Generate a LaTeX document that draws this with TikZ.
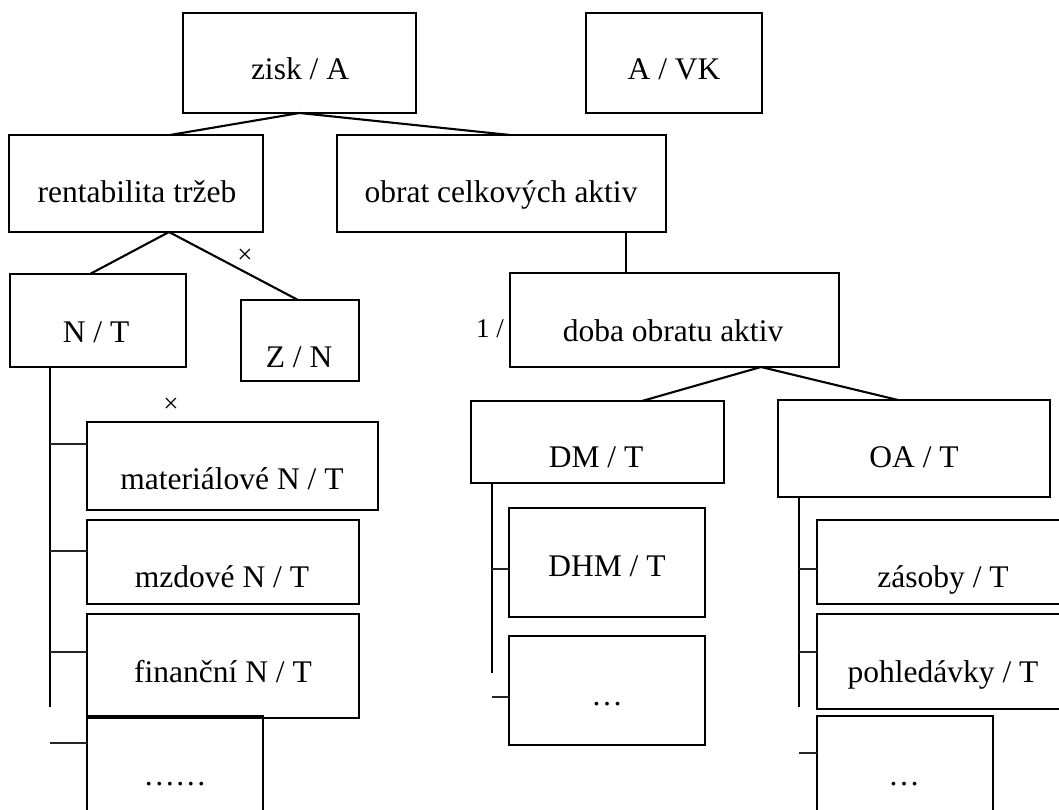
\documentclass[tikz,border=0pt]{standalone}
\usepackage{fontspec}
\setmainfont{Liberation Serif}
\newcommand\mkbox[5]{\node[box, anchor=north west, minimum width={#4-#2}, minimum height={#5-#3}] (#1) at (#2,#3) {};}
\begin{document}
\begin{tikzpicture}[x=1pt,y=-1pt,
  box/.style={draw=black, line width=2.7pt, inner sep=0pt, outer sep=0pt},
  conn/.style={draw=black, line width=2.1pt},
  tickln/.style={draw=black!85, line width=1.9pt},
  txt/.style={anchor=base, inner sep=0pt, font=\fontsize{31.5}{36}\selectfont},
  small/.style={inner sep=0pt, font=\fontsize{27}{30}\selectfont}]
\useasboundingbox (0,0) rectangle (1059,810);
\fill[white] (0,0) rectangle (1059,810);
\clip (0,0) rectangle (1059,810);
% boxes
\mkbox{zisk}{183}{13}{416}{113}
\mkbox{avk}{586}{13}{762}{113}
\mkbox{rent}{9}{135}{263}{232}
\mkbox{obrat}{337}{135}{666}{232}
\mkbox{nt}{10}{274}{186}{367}
\mkbox{zn}{241}{300}{359}{381}
\mkbox{doba}{510}{273}{839}{367}
\mkbox{dm}{471}{401}{724}{483}
\mkbox{oa}{778}{400}{1050}{497}
\mkbox{mat}{87}{422}{378}{510}
\mkbox{mzd}{87}{520}{359}{604}
\mkbox{fin}{87}{614}{359}{718}
\mkbox{dotsL}{87}{716}{263}{830}
\mkbox{dhm}{509}{508}{705}{617}
\mkbox{dmdots}{509}{636}{705}{745}
\mkbox{zas}{817}{520}{1080}{604}
\mkbox{poh}{817}{614}{1080}{709}
\mkbox{oadots}{817}{716}{993}{830}
% texts
\node[txt] (zisk-t) at (300,80) {zisk / A};
\node[txt] (avk-t) at (674,80) {A / VK};
\node[txt] (rent-t) at (137,203) {rentabilita tržeb};
\node[txt] (obrat-t) at (501,203) {obrat celkových aktiv};
\node[txt] (nt-t) at (96,342) {N / T};
\node[txt] (zn-t) at (299,367) {Z / N};
\node[txt] (doba-t) at (673,341) {doba obratu aktiv};
\node[small, anchor=base] (inv-t) at (490,337) {1 /};
\node[txt] (dm-t) at (596,467) {DM / T};
\node[txt] (oa-t) at (914,467) {OA / T};
\node[txt] (mat-t) at (232,489) {materiálové N / T};
\node[txt] (mzd-t) at (222,587) {mzdové N / T};
\node[txt] (fin-t) at (223,682) {finanční N / T};
\node[txt] (dotsL-t) at (175,785) {……};
\node[txt] (dhm-t) at (607,576) {DHM / T};
\node[txt] (dmdots-t) at (607,705) {…};
\node[txt] (zas-t) at (943,587) {zásoby / T};
\node[txt] (poh-t) at (943,682) {pohledávky / T};
\node[txt] (oadots-t) at (904,785) {…};
\node[small] (x1) at (245,256) {×};
\node[small] (x2) at (171,405) {×};
% tree connectors
\draw[conn] (zisk.south) -- ([xshift=34]rent.north);
\draw[conn] (zisk.south) -- ([xshift=8.5]obrat.north);
\draw[conn] ([xshift=33]rent.south) -- ([xshift=-8]nt.north);
\draw[conn] ([xshift=33]rent.south) -- ([xshift=-2]zn.north);
\coordinate (ob) at ([xshift=124.5]obrat.south);
\draw[conn] (ob) -- (ob |- doba.north);
\draw[conn] ([xshift=86.5]doba.south) -- ([xshift=44.5]dm.north);
\draw[conn] ([xshift=86.5]doba.south) -- ([xshift=-16]oa.north);
% left list
\coordinate (ntv) at ([xshift=40]nt.south west);
\coordinate (ntend) at (50,707);
\draw[conn] (ntv) -- (ntend);
\coordinate (l1) at (50,444);
\coordinate (l2) at (50,551);
\coordinate (l3) at (50,652);
\coordinate (l4) at (50,743);
\draw[tickln] (l1) -- (l1 -| mat.west);
\draw[tickln] (l2) -- (l2 -| mzd.west);
\draw[tickln] (l3) -- (l3 -| fin.west);
\draw[tickln] (l4) -- (l4 -| dotsL.west);
% DM list
\coordinate (dmv) at ([xshift=21]dm.south west);
\coordinate (dmend) at (492,673);
\draw[conn] (dmv) -- (dmend);
\coordinate (d1) at (492,569);
\coordinate (d2) at (492,697);
\draw[tickln] (d1) -- (d1 -| dhm.west);
\draw[tickln] (d2) -- (d2 -| dmdots.west);
% OA list
\coordinate (oav) at ([xshift=21]oa.south west);
\coordinate (oaend) at (799,707);
\draw[conn] (oav) -- (oaend);
\coordinate (o1) at (799,569);
\coordinate (o2) at (799,652);
\coordinate (o3) at (799,753);
\draw[tickln] (o1) -- (o1 -| zas.west);
\draw[tickln] (o2) -- (o2 -| poh.west);
\draw[tickln] (o3) -- (o3 -| oadots.west);
\end{tikzpicture}
\end{document}
